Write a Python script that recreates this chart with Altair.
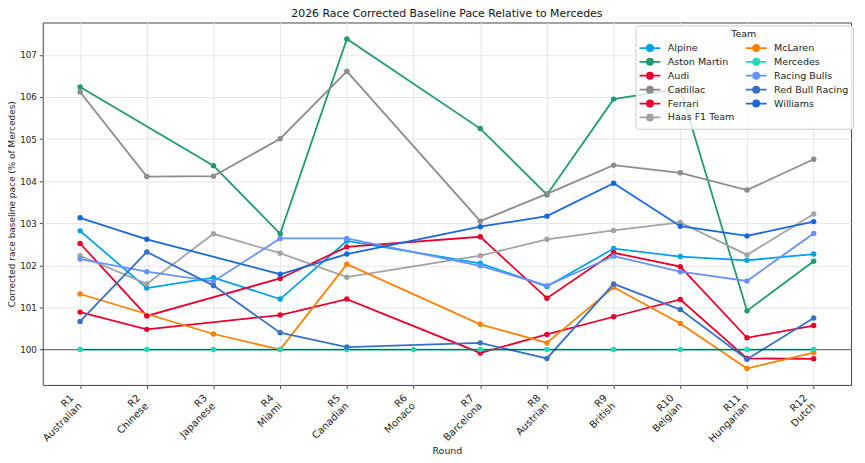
import altair as alt
import pandas as pd

rounds = ["R1", "R2", "R3", "R4", "R5", "R6", "R7", "R8", "R9", "R10", "R11", "R12"]
races = ["Australian", "Chinese", "Japanese", "Miami", "Canadian", "Monaco",
         "Barcelona", "Austrian", "British", "Belgian", "Hungarian", "Dutch"]

teams = ["Alpine", "Aston Martin", "Audi", "Cadillac", "Ferrari", "Haas F1 Team",
         "McLaren", "Mercedes", "Racing Bulls", "Red Bull Racing", "Williams"]

alpine = [102.82, 101.46, 101.71, 101.20, 102.58, None, 102.05, 101.50, 102.40, 102.21, 102.12, 102.27]
aston_martin = [106.24, None, 104.37, 102.75, 107.38, None, 105.25, 103.68, 105.95, 106.20, 100.92, 102.10]
audi = [100.89, 100.48, None, 100.82, 101.20, None, 99.92, 100.36, 100.78, 101.19, 99.79, 99.78]
cadillac = [106.12, 104.11, 104.12, 105.01, 106.61, None, 103.05, 103.70, 104.38, 104.20, 103.79, 104.52]
ferrari = [102.52, 100.80, None, 101.69, 102.44, None, 102.68, 101.22, 102.30, 101.97, 100.28, 100.57]
haas = [102.23, 101.56, 102.75, 102.29, 101.72, None, 102.23, 102.62, 102.83, 103.02, 102.25, 103.22]
mclaren = [101.32, None, 100.37, 100.00, 102.03, None, 100.60, 100.16, 101.48, 100.62, 99.55, 99.93]
mercedes = [100.0, 100.0, 100.0, 100.0, 100.0, 100.0, 100.0, 100.0, 100.0, 100.0, 100.0, 100.0]
racing_bulls = [102.15, 101.85, 101.62, 102.64, 102.64, None, 101.99, 101.52, 102.22, 101.85, 101.63, 102.76]
red_bull = [100.67, 102.32, 101.52, 100.40, 100.06, None, 100.16, 99.79, 101.56, 100.95, 99.77, 100.75]
williams = [103.13, 102.62, None, 101.79, 102.27, None, 102.92, 103.17, 103.95, 102.93, 102.70, 103.04]

series = [alpine, aston_martin, audi, cadillac, ferrari, haas,
          mclaren, mercedes, racing_bulls, red_bull, williams]

colors = ["#00A1E8", "#229971", "#E8002D", "#8C8C8C", "#E8002D", "#A3A3A3",
          "#FF8000", "#20D9B8", "#6692FF", "#3671C6", "#1868DB"]

y_ticks = [100, 101, 102, 103, 104, 105, 106, 107]

rows = []
for team, vals in zip(teams, series):
    for i, v in enumerate(vals):
        if v is not None:
            rows.append({"team": team, "idx": i, "pace": v})
df = pd.DataFrame(rows)

color_scale = alt.Scale(domain=teams, range=colors)

label_arr = "[" + ",".join("'%s|%s'" % (r, n) for r, n in zip(rounds, races)) + "]"

x_enc = alt.X(
    "idx:Q",
    scale=alt.Scale(domain=[-0.56, 11.56], nice=False, zero=False),
    axis=alt.Axis(
        values=list(range(len(rounds))),
        labelExpr="split(" + label_arr + "[datum.value], '|')",
        labelAngle=-45, labelAlign="right", labelBaseline="top",
        labelOffset=-12, labelPadding=4, labelFontSize=10, labelLineHeight=11.5,
        title="Round", titleFontSize=9.5, titleFontWeight="normal", titlePadding=2,
        tickSize=3.5, domain=False, grid=True,
    ),
)
y_enc = alt.Y(
    "pace:Q",
    scale=alt.Scale(domain=[99.16, 107.77], nice=False, zero=False),
    axis=alt.Axis(
        values=y_ticks, format="d", labelFontSize=8.8, labelPadding=3,
        title="Corrected race baseline pace (% of Mercedes)",
        titleFontSize=9, titleFontWeight="normal", titlePadding=3,
        tickSize=3.5, domain=False, grid=True,
    ),
)

legend = alt.Legend(
    title="Team", orient="none", legendX=597, legendY=3, columns=2,
    symbolType="M-2.1,0L2.1,0M0.62,0A0.62,0.62,0,1,1,-0.62,0A0.62,0.62,0,1,1,0.62,0Z",
    symbolSize=100, symbolStrokeWidth=1.8, symbolOpacity=1, symbolOffset=4.5,
    fillColor="rgba(255,255,255,0.8)", strokeColor="#cccccc", cornerRadius=3,
    padding=4, labelFontSize=9.6, titleFontSize=9.6, titleFontWeight="normal",
    titleAnchor="middle", columnPadding=7, labelOffset=12, rowPadding=0,
    titlePadding=3, labelColor="#222", titleColor="#222",
)

color_enc = alt.Color("team:N", scale=color_scale, legend=legend)

lines = alt.Chart(df).mark_line(strokeWidth=1.8).encode(
    x=x_enc, y=y_enc, color=color_enc, detail="team:N"
)
rule = alt.Chart(pd.DataFrame({"ref": [100]})).mark_rule(
    color="black", opacity=0.5, strokeWidth=1.2
).encode(y="ref:Q")
points = alt.Chart(df).mark_circle(size=30, opacity=1).encode(
    x=x_enc, y=y_enc, color=color_enc
)

chart = alt.layer(lines, rule, points).properties(
    width=814, height=365,
    padding={"left": 35, "top": 13, "right": 6, "bottom": 76},
    autosize=alt.AutoSizeParams(type="none"),
    title=alt.TitleParams(
        "2026 Race Corrected Baseline Pace Relative to Mercedes",
        fontSize=11, fontWeight="normal", anchor="middle", offset=4, color="#111",
    ),
).configure(font="DejaVu Sans").configure_view(
    stroke="#444", strokeWidth=1
).configure_axis(
    gridColor="#e6e6e6", tickColor="#444", labelColor="#222", titleColor="#222",
)

chart.save("out.html", embed_options={"renderer": "svg", "actions": False})
